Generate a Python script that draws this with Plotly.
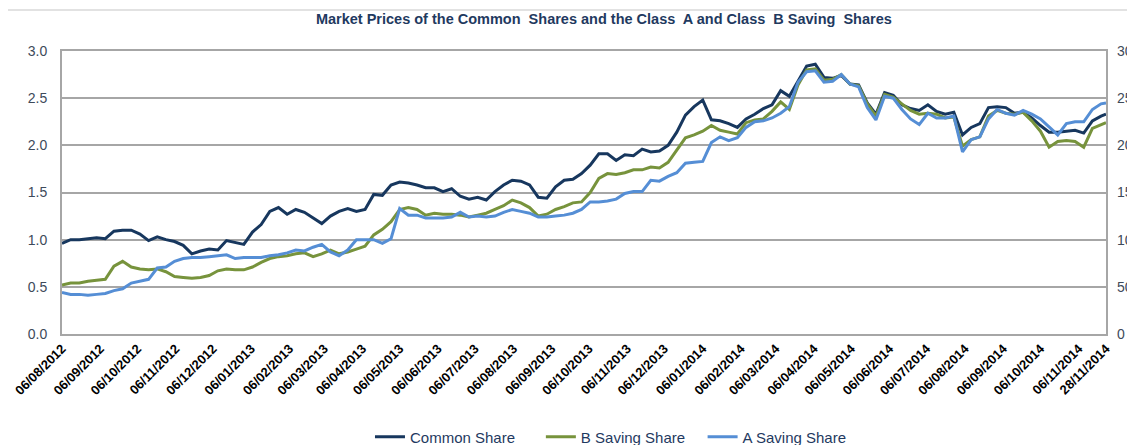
import pandas as pd
import plotly.graph_objects as go

# Weekly observation dates (plus the final day shown on the axis)
dates = list(pd.date_range("2012-08-06", "2014-11-24", freq="7D")) + [pd.Timestamp("2014-11-28")]

common_share = [
    0.96, 1.00, 1.00, 1.01, 1.02, 1.01, 1.09, 1.10, 1.10, 1.06,
    0.99, 1.03, 1.00, 0.98, 0.94, 0.85, 0.88, 0.90, 0.89, 0.99,
    0.97, 0.95, 1.08, 1.16, 1.30, 1.34, 1.27, 1.32, 1.29, 1.23,
    1.17, 1.25, 1.30, 1.33, 1.30, 1.32, 1.48, 1.47, 1.58, 1.61,
    1.60, 1.58, 1.55, 1.55, 1.51, 1.54, 1.46, 1.43, 1.45, 1.42,
    1.51, 1.58, 1.63, 1.62, 1.58, 1.45, 1.44, 1.56, 1.63, 1.64,
    1.70, 1.79, 1.91, 1.91, 1.84, 1.90, 1.89, 1.96, 1.93, 1.94,
    2.00, 2.14, 2.32, 2.41, 2.48, 2.27, 2.26, 2.23, 2.19, 2.28,
    2.33, 2.39, 2.43, 2.58, 2.52, 2.68, 2.84, 2.86, 2.72, 2.71,
    2.74, 2.65, 2.64, 2.45, 2.33, 2.56, 2.53, 2.43, 2.39, 2.37,
    2.43, 2.36, 2.33, 2.35, 2.11, 2.19, 2.23, 2.40, 2.41, 2.40,
    2.34, 2.35, 2.29, 2.21, 2.14, 2.14, 2.15, 2.16, 2.13, 2.26,
    2.31, 2.33,
]

b_saving_share = [
    0.52, 0.54, 0.54, 0.56, 0.57, 0.58, 0.72, 0.77, 0.71, 0.69,
    0.68, 0.69, 0.66, 0.61, 0.60, 0.59, 0.60, 0.62, 0.67, 0.69,
    0.68, 0.68, 0.71, 0.76, 0.80, 0.82, 0.83, 0.85, 0.86, 0.82,
    0.85, 0.89, 0.85, 0.87, 0.90, 0.93, 1.05, 1.11, 1.19, 1.32,
    1.34, 1.32, 1.26, 1.28, 1.27, 1.27, 1.26, 1.24, 1.26, 1.28,
    1.32, 1.36, 1.42, 1.39, 1.34, 1.25, 1.27, 1.32, 1.35, 1.39,
    1.40, 1.50, 1.65, 1.70, 1.69, 1.71, 1.74, 1.74, 1.77, 1.76,
    1.82, 1.95, 2.08, 2.11, 2.15, 2.21, 2.16, 2.14, 2.12, 2.24,
    2.27, 2.28, 2.36, 2.46, 2.38, 2.64, 2.80, 2.81, 2.69, 2.70,
    2.75, 2.65, 2.63, 2.44, 2.31, 2.54, 2.51, 2.44, 2.37, 2.33,
    2.34, 2.33, 2.29, 2.30, 1.99, 2.06, 2.09, 2.31, 2.37, 2.34,
    2.33, 2.35, 2.26, 2.15, 1.98, 2.04, 2.05, 2.04, 1.98, 2.18,
    2.22, 2.24,
]

a_saving_share = [
    0.44, 0.42, 0.42, 0.41, 0.42, 0.43, 0.46, 0.48, 0.54, 0.56,
    0.58, 0.70, 0.71, 0.77, 0.80, 0.81, 0.81, 0.82, 0.83, 0.84,
    0.80, 0.81, 0.81, 0.81, 0.83, 0.84, 0.86, 0.89, 0.88, 0.92,
    0.95, 0.87, 0.83, 0.89, 1.00, 1.00, 1.00, 0.96, 1.01, 1.33,
    1.26, 1.26, 1.23, 1.23, 1.23, 1.24, 1.29, 1.24, 1.25, 1.24,
    1.25, 1.29, 1.32, 1.30, 1.28, 1.24, 1.24, 1.25, 1.26, 1.28,
    1.32, 1.40, 1.40, 1.41, 1.43, 1.49, 1.51, 1.51, 1.63, 1.62,
    1.67, 1.71, 1.81, 1.82, 1.83, 2.03, 2.09, 2.05, 2.08, 2.19,
    2.25, 2.26, 2.29, 2.34, 2.41, 2.67, 2.78, 2.79, 2.67, 2.68,
    2.75, 2.65, 2.62, 2.40, 2.27, 2.52, 2.50, 2.38, 2.28, 2.22,
    2.34, 2.29, 2.29, 2.31, 1.93, 2.06, 2.09, 2.28, 2.38, 2.34,
    2.32, 2.37, 2.33, 2.28, 2.20, 2.11, 2.23, 2.25, 2.25, 2.38,
    2.44, 2.45,
]

tick_dates = list(pd.date_range("2012-08-06", "2014-11-06", freq=pd.DateOffset(months=1))) + [pd.Timestamp("2014-11-28")]
tick_labels = [d.strftime("%d/%m/%Y") for d in tick_dates]

title_text = "Market Prices of the Common  Shares and the Class  A and Class  B Saving  Shares"

grid_col = "#A6A6A6"
label_col = "#3E4A5A"

W, H = 1127, 437  # page has an 8px body margin; keep the figure inside the window

fig = go.Figure()
fig.add_trace(go.Scatter(x=dates, y=common_share, name="Common Share\u00a0\u00a0\u00a0\u00a0\u00a0",
                         mode="lines", line=dict(color="#17375E", width=3)))
fig.add_trace(go.Scatter(x=dates, y=b_saving_share, name="B Saving Share\u00a0\u00a0\u00a0",
                         mode="lines", line=dict(color="#77933C", width=3)))
fig.add_trace(go.Scatter(x=dates, y=[v * 100 for v in a_saving_share], name="A Saving Share",
                         mode="lines", yaxis="y2", line=dict(color="#558ED5", width=3)))

fig.update_layout(
    width=W, height=H, autosize=False,
    margin=dict(l=54, r=29, t=43, b=111, autoexpand=False),
    paper_bgcolor="white", plot_bgcolor="white",
    font=dict(family="Arial, Liberation Sans, sans-serif"),
    title=dict(text=title_text, x=0.519, xref="paper", xanchor="center",
               y=1 - 11 / H, yref="container", yanchor="middle",
               font=dict(size=14.5, color="#1F3A5F", weight="bold")),
    xaxis=dict(type="date", range=[dates[0], dates[-1]],
               tickmode="array", tickvals=tick_dates, ticktext=tick_labels,
               tickangle=-45, tickfont=dict(size=13, color="black", weight="bold"),
               showgrid=False, showline=True, linecolor=grid_col, linewidth=2,
               mirror=True, ticks="", automargin=False, zeroline=False),
    yaxis=dict(range=[0, 3], dtick=0.5, tickformat=".1f",
               tickfont=dict(size=14, color=label_col), ticklabelstandoff=10,
               showgrid=True, gridcolor=grid_col, gridwidth=1.5,
               showline=True, linecolor=grid_col, linewidth=2, mirror=True,
               zeroline=False, ticks="", automargin=False),
    yaxis2=dict(range=[0, 300], dtick=50, overlaying="y", side="right",
                tickfont=dict(size=14, color=label_col), ticklabelstandoff=10,
                showgrid=False, showline=False, zeroline=False, ticks="",
                automargin=False),
    legend=dict(orientation="h", x=0.295, xanchor="left", y=-0.364, yanchor="middle",
                font=dict(size=15, color="#1F3A5F"), bgcolor="rgba(0,0,0,0)"),
    shapes=[dict(type="line", xref="paper", yref="paper", x0=-0.06, x1=1.03,
                 y0=1.145, y1=1.145, line=dict(color="#D9D9D9", width=1.5))],
)

fig.write_html("out.html")
